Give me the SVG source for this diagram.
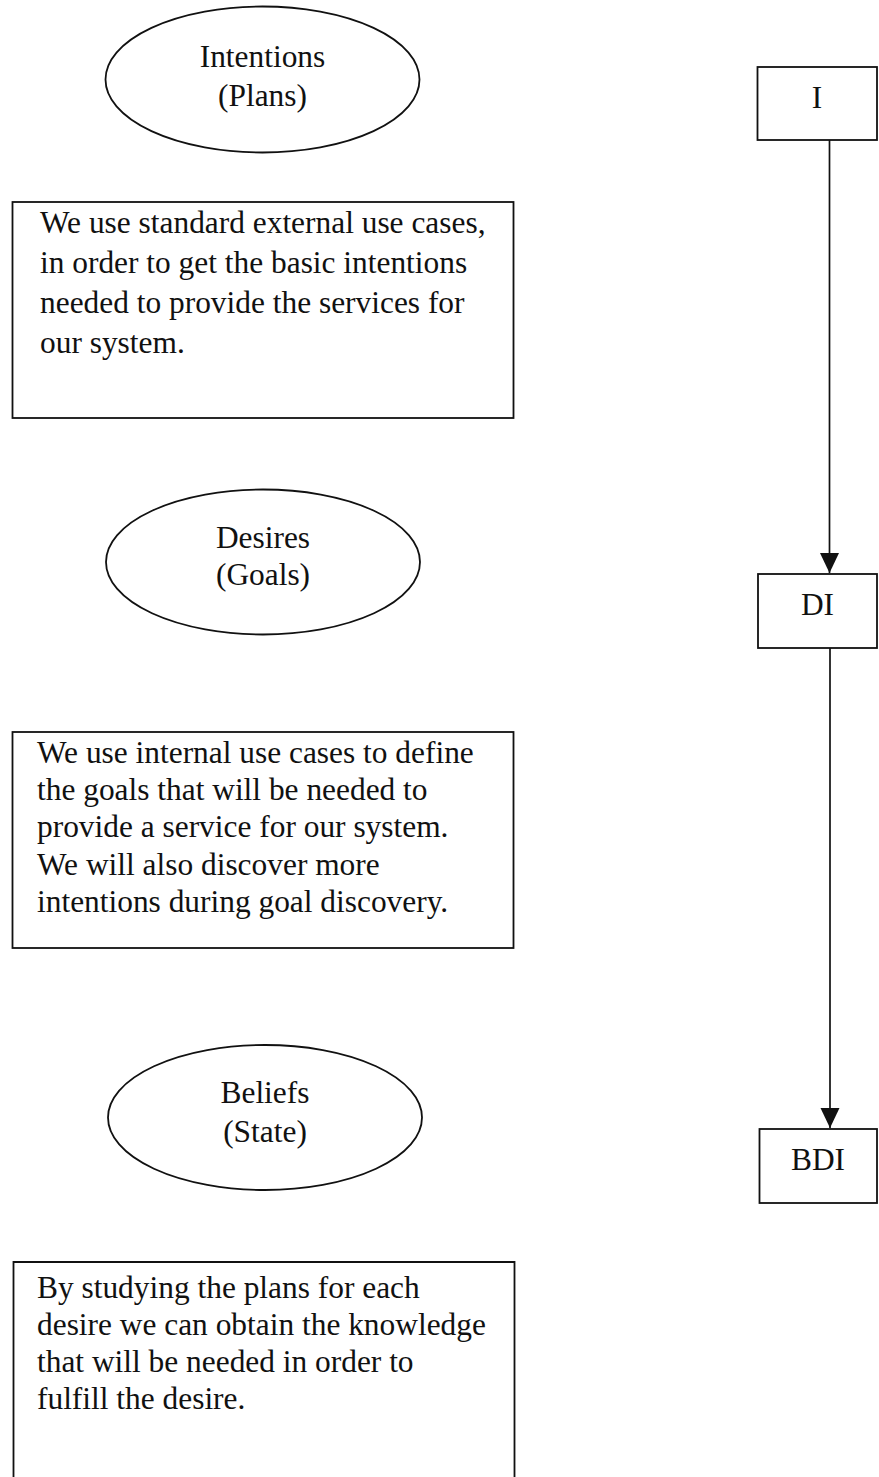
<svg xmlns="http://www.w3.org/2000/svg" width="879" height="1477" viewBox="0 0 879 1477">
<style>
  .shape { fill: #ffffff; stroke: #111111; stroke-width: 1.8; }
  .t { font-family: "Liberation Serif", "Times New Roman", serif; font-size: 31.4px; fill: #111111; }
  .c { text-anchor: middle; }
  .conn { stroke: #111111; stroke-width: 1.7; fill: none; }
</style>
<defs>
  <marker id="arrow" markerUnits="userSpaceOnUse" markerWidth="20" markerHeight="22" refX="20" refY="10" orient="auto">
    <path d="M0,0.5 L20,10 L0,19.5 Z" fill="#111111"/>
  </marker>
</defs>
<rect width="879" height="1477" fill="#ffffff"/>

<g id="intentions">
  <ellipse class="shape" cx="262.5" cy="79.5" rx="157" ry="73"/>
  <text class="t c" x="262.5" y="67">Intentions</text>
  <text class="t c" x="262.5" y="106">(Plans)</text>
</g>

<g id="note-intentions">
  <rect class="shape" x="12.5" y="202" width="501" height="216"/>
  <text class="t" x="40" y="233">We use standard external use cases,</text>
  <text class="t" x="40" y="273">in order to get the basic intentions</text>
  <text class="t" x="40" y="313">needed to provide the services for</text>
  <text class="t" x="40" y="353">our system.</text>
</g>

<g id="desires">
  <ellipse class="shape" cx="263" cy="562" rx="157" ry="72.5"/>
  <text class="t c" x="263" y="548">Desires</text>
  <text class="t c" x="263" y="585">(Goals)</text>
</g>

<g id="note-desires">
  <rect class="shape" x="12.5" y="732" width="501" height="216"/>
  <text class="t" x="37" y="763">We use internal use cases to define</text>
  <text class="t" x="37" y="800">the goals that will be needed to</text>
  <text class="t" x="37" y="837">provide a service for our system.</text>
  <text class="t" x="37" y="875">We will also discover more</text>
  <text class="t" x="37" y="912">intentions during goal discovery.</text>
</g>

<g id="beliefs">
  <ellipse class="shape" cx="265" cy="1117.5" rx="157" ry="72.5"/>
  <text class="t c" x="265" y="1103">Beliefs</text>
  <text class="t c" x="265" y="1142">(State)</text>
</g>

<g id="note-beliefs">
  <path class="shape" d="M13.5,1479 L13.5,1262 L514.5,1262 L514.5,1479"/>
  <text class="t" x="37" y="1298">By studying the plans for each</text>
  <text class="t" x="37" y="1335">desire we can obtain the knowledge</text>
  <text class="t" x="37" y="1372">that will be needed in order to</text>
  <text class="t" x="37" y="1409">fulfill the desire.</text>
</g>

<g id="box-I">
  <rect class="shape" x="757.5" y="67" width="119.5" height="73"/>
  <text class="t c" x="817" y="108">I</text>
</g>

<g id="box-DI">
  <rect class="shape" x="758" y="574" width="119" height="74"/>
  <text class="t c" x="817.5" y="615">DI</text>
</g>

<g id="box-BDI">
  <rect class="shape" x="759.5" y="1129" width="117.5" height="74"/>
  <text class="t c" x="818" y="1170">BDI</text>
</g>

<g id="connectors">
  <line class="conn" x1="829.5" y1="140" x2="829.5" y2="573" marker-end="url(#arrow)"/>
  <line class="conn" x1="830" y1="648" x2="830" y2="1128" marker-end="url(#arrow)"/>
</g>
</svg>
